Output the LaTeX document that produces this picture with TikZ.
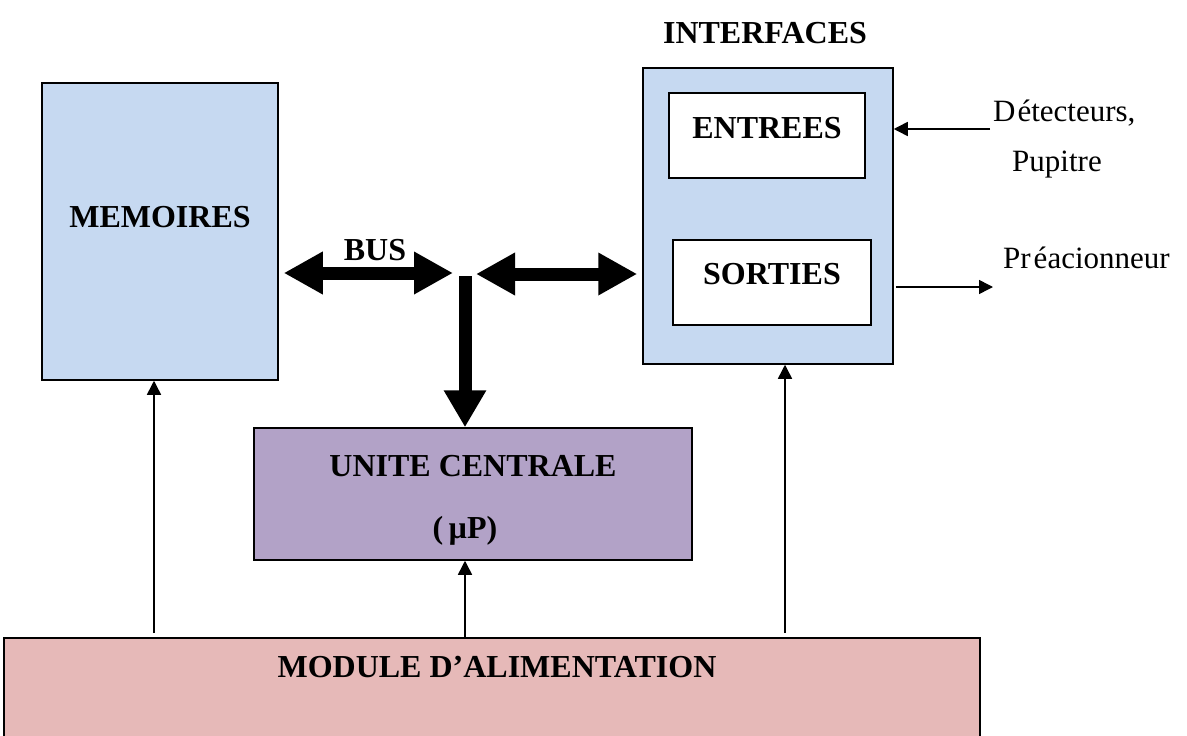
\documentclass[tikz,border=0pt]{standalone}
\usepackage{fontspec}
\setmainfont{Liberation Serif}
\usetikzlibrary{arrows.meta}
\definecolor{memblue}{HTML}{C6D9F1}
\definecolor{ucviolet}{HTML}{B2A2C7}
\definecolor{modpink}{HTML}{E6B9B8}
\tikzset{
  box/.style={draw=black, line width=1.5pt, rectangle, inner sep=0pt},
  lbl/.style={font=\fontsize{32}{36}\selectfont\bfseries, inner sep=0pt},
  txt/.style={font=\fontsize{31}{36}\selectfont, inner sep=0pt, anchor=west},
  bus/.style={line width=13pt, {Triangle[width=40pt,length=39pt]}-{Triangle[width=40pt,length=39pt]}},
  busdown/.style={line width=13pt, -{Triangle[width=40pt,length=37pt]}},
  thin/.style={line width=1.5pt, -{Triangle[width=14pt,length=14pt]}}
}
\begin{document}
\begin{tikzpicture}[x=1pt,y=-1pt]
\useasboundingbox (0,0) rectangle (1187,736);
\clip (0,0) rectangle (1187,736);
% boxes
\node[box, fill=memblue, minimum width=236pt, minimum height=297pt] (mem) at (160,231.5) {};
\node[lbl] (memt) at (160,217) {MEMOIRES};
\node[box, fill=memblue, minimum width=250pt, minimum height=296pt] (intf) at (768,216) {};
\node[lbl] (intft) at (765,33) {INTERFACES};
\node[box, fill=white, minimum width=196pt, minimum height=85pt] (ent) at (767,135.5) {};
\node[lbl] (entt) at (767,128) {ENTREES};
\node[box, fill=white, minimum width=198pt, minimum height=85pt] (sor) at (772,282.5) {};
\node[lbl] (sort) at (772,274) {SORTIES};
\node[box, fill=ucviolet, minimum width=438pt, minimum height=132pt] (uc) at (473,494) {};
\node[lbl] (uct) at (473,466) {UNITE CENTRALE};
\node[lbl] (ucp) at (465,531) {(\,µP)};
\node[box, fill=modpink, minimum width=976pt, minimum height=130pt] (mod) at (492,703) {};
\node[lbl] (modt) at (497,667) {MODULE D’ALIMENTATION};
\node[lbl] (bust) at (375,250) {BUS};
% right texts
\node[txt] (det) at (993,113) {\spaceskip=2pt D étecteurs,};
\node[txt] (pup) at (1012,165) {Pupitre};
\node[txt] (pre) at (1003,258) {\spaceskip=3pt Pr éacionneur};
% bus
\coordinate (jl) at (453,273);
\coordinate (jr) at (476,274);
\coordinate (jd) at (465,276);
\draw[bus] ([xshift=5pt]mem.east |- jl) -- (jl);
\draw[bus] (jr) -- ([xshift=-5pt]intf.west |- jr);
\draw[busdown] (jd) -- (jd |- uc.north);
% thin arrows
\coordinate (dsrc) at (990,129);
\draw[thin] (dsrc) -- (intf.east |- dsrc);
\coordinate (pdst) at (993,287);
\draw[thin] ([xshift=2pt]intf.east |- pdst) -- (pdst);
\coordinate (m1) at (154,633);
\draw[thin] (m1) -- (m1 |- mem.south);
\coordinate (m2) at (465,638);
\draw[thin] (m2) -- (m2 |- uc.south);
\coordinate (m3) at (785,633);
\draw[thin] (m3) -- (m3 |- intf.south);
\end{tikzpicture}
\end{document}
